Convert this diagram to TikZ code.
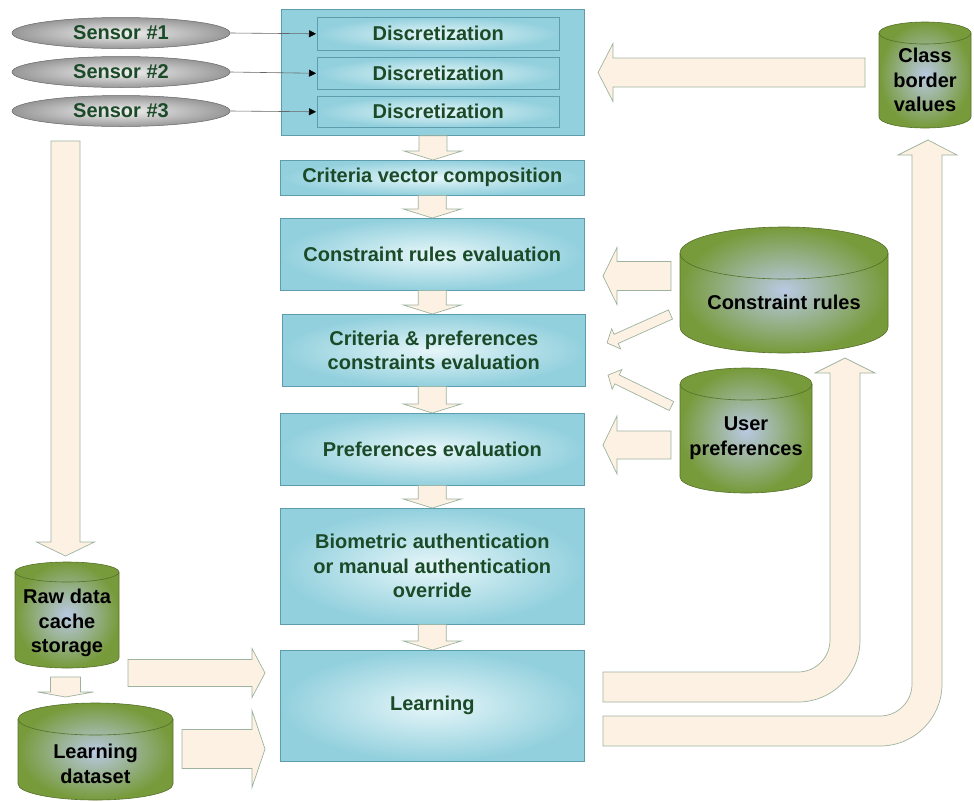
\documentclass[tikz,border=0pt]{standalone}
\usepackage{fontspec}
\setmainfont{Liberation Sans}
\usetikzlibrary{shapes.geometric,arrows.meta,calc}
\definecolor{blueD}{HTML}{92D0DD}
\definecolor{blueL}{HTML}{E6F6F9}
\definecolor{blueB}{HTML}{5E9DAD}
\definecolor{txtgreen}{HTML}{1B4A28}
\definecolor{cream}{HTML}{FDF1E4}
\definecolor{creamB}{HTML}{9DB39E}
\definecolor{cylD}{HTML}{779A3A}
\definecolor{cylL}{HTML}{B9C9E3}
\definecolor{cylB}{HTML}{55702A}
\definecolor{grayL}{HTML}{F3F3F3}
\definecolor{grayD}{HTML}{979797}
\definecolor{grayB}{HTML}{666666}
\tikzset{
  bigbox/.style={draw=blueB, fill=blueD, line width=0.8pt, inner sep=0pt},
  bluebox/.style={draw=blueB, shade, inner color=blueL, outer color=blueD, line width=0.6pt,
     text=txtgreen, align=center, inner sep=0pt},
  sensor/.style={ellipse, draw=grayB, shade, inner color=grayL, outer color=grayD, line width=0.5pt,
     text=txtgreen, inner sep=0pt, minimum width=218pt, minimum height=31pt},
  thinarr/.style={draw=grayB, line width=0.6pt, -{Triangle[length=7pt,width=7pt,black]}, shorten >=1pt},
  fatarrow/.style={fill=cream, draw=creamB, line width=0.7pt, line join=miter},
  cylshade/.style={shade, inner color=cylL, outer color=cylD, draw=cylB, line width=0.6pt},
  cylline/.style={draw=cylB, line width=0.6pt},
  cyltext/.style={text=black, align=center, inner sep=0pt}
}
% fat arrow from #1 to #2, shaft half width #3, head half width #4, head length #5
\newcommand\fatAB[5]{%
  \path[fatarrow] let \p1=#1, \p2=#2 in
    [shift={(\p1)}, rotate={atan2(\y2-\y1,\x2-\x1)}]
    (0pt,-#3pt) -- ({veclen(\x2-\x1,\y2-\y1)-#5pt},-#3pt)
    -- ({veclen(\x2-\x1,\y2-\y1)-#5pt},-#4pt)
    -- ({veclen(\x2-\x1,\y2-\y1)},0pt)
    -- ({veclen(\x2-\x1,\y2-\y1)-#5pt},#4pt)
    -- ({veclen(\x2-\x1,\y2-\y1)-#5pt},#3pt)
    -- (0pt,#3pt) -- cycle;}
% database cylinder: name, cx, top, width, height, ry, text y, text
\newcommand\dbcyl[8]{%
  \path[cylshade] (#2-#4/2,#3+#6) -- (#2-#4/2,#3+#5-#6)
    arc[start angle=180,end angle=0,x radius=#4/2,y radius=#6]
    -- (#2+#4/2,#3+#6)
    arc[start angle=0,end angle=-180,x radius=#4/2,y radius=#6] -- cycle;
  \draw[cylline] (#2-#4/2,#3+#6) arc[start angle=180,end angle=0,x radius=#4/2,y radius=#6];
  \node[cyltext] (#1) at (#2,#7) {#8};}
\begin{document}
\begin{tikzpicture}[x=1pt,y=-1pt,font=\fontsize{20}{24.5}\selectfont\bfseries]
\useasboundingbox (0,0) rectangle (974,801);

% main column
\node[bigbox, anchor=north west, minimum width=303pt, minimum height=126pt] (big) at (281,9) {};
\node[bluebox, anchor=north west, minimum width=242pt, minimum height=33pt] (d1) at (317,17) {Discretization};
\node[bluebox, anchor=north west, minimum width=242pt, minimum height=32pt] (d2) at (317,57) {Discretization};
\node[bluebox, anchor=north west, minimum width=242pt, minimum height=31pt] (d3) at (317,96) {Discretization};
\node[bluebox, anchor=north west, minimum width=304pt, minimum height=35pt] (cvc) at (280,160) {Criteria vector composition};
\node[bluebox, anchor=north west, minimum width=304pt, minimum height=72pt] (cre) at (280,218) {Constraint rules evaluation};
\node[bluebox, anchor=north west, minimum width=303pt, minimum height=72pt] (cpc) at (282,314) {Criteria \& preferences\\constraints evaluation};
\node[bluebox, anchor=north west, minimum width=304pt, minimum height=72pt] (pe) at (280,413) {Preferences evaluation};
\node[bluebox, anchor=north west, minimum width=304pt, minimum height=116pt] (bio) at (280,508) {Biometric authentication\\or manual authentication\\override};
\node[bluebox, anchor=north west, minimum width=304pt, minimum height=111pt] (learn) at (280,650) {Learning};

% sensors
\node[sensor] (s1) at (121,33) {Sensor \#1};
\node[sensor] (s2) at (121,72) {Sensor \#2};
\node[sensor] (s3) at (121,111) {Sensor \#3};
\draw[thinarr] (s1.east) -- (d1.west);
\draw[thinarr] (s2.east) -- (d2.west);
\draw[thinarr] (s3.east) -- (d3.west);

% down arrows in main column
\fatAB{(big.south)}{(big.south |- cvc.north)}{14}{29}{9}
\fatAB{(cvc.south)}{(cre.north)}{14}{29}{9}
\fatAB{(cre.south)}{(cre.south |- cpc.north)}{14}{29}{9}
\fatAB{(cre.south |- cpc.south)}{(pe.north)}{14}{29}{9}
\fatAB{(pe.south)}{(bio.north)}{14}{29}{9}
\fatAB{(bio.south)}{(learn.north)}{14}{29}{9}

% databases
\dbcyl{cbv}{925}{22}{92}{106}{11}{80}{Class\\border\\values}
\dbcyl{cr}{784}{227}{208}{126}{26}{302}{Constraint rules}
\dbcyl{up}{746}{368}{132}{125}{16}{438}{User\\preferences}
\dbcyl{raw}{67}{562}{104}{106}{10}{623}{Raw data\\cache\\storage}
\dbcyl{ld}{95.5}{703}{155}{97}{16}{764}{Learning\\dataset}

% right side arrows
\fatAB{(865,72.5)}{(598,72.5)}{14.5}{29}{15}
\fatAB{(671,276)}{(603,276)}{14.5}{28.5}{14}
\fatAB{(671,445)}{(603,445)}{14}{29}{14}
\fatAB{(670.5,314.5)}{(607,343)}{5}{11}{10}
\fatAB{(671.5,406)}{(608,375)}{5}{11}{10}

% left side arrows
\fatAB{(65.5,141)}{(65.5,556)}{14.5}{29}{14}
\fatAB{(65.5,677)}{(65.5,697)}{15}{28}{5}
\fatAB{(128,673)}{(265,673)}{13.5}{24.5}{13}
\fatAB{(182,749)}{(265,749)}{19.5}{38.5}{13}

% curved feedback arrows from Learning
\path[fatarrow] (603,672) -- (798,672) arc[start angle=90,end angle=0,radius=32]
  -- (830,373) -- (815,373) -- (845,358) -- (875,373) -- (860,373) -- (860,640)
  arc[start angle=0,end angle=90,radius=62] -- (603,702) -- cycle;
\path[fatarrow] (603,716) -- (880,716) arc[start angle=90,end angle=0,radius=32]
  -- (912,155) -- (898,155) -- (928,140) -- (957,155) -- (942,155) -- (942,684)
  arc[start angle=0,end angle=90,radius=62] -- (603,746) -- cycle;
\end{tikzpicture}
\end{document}
